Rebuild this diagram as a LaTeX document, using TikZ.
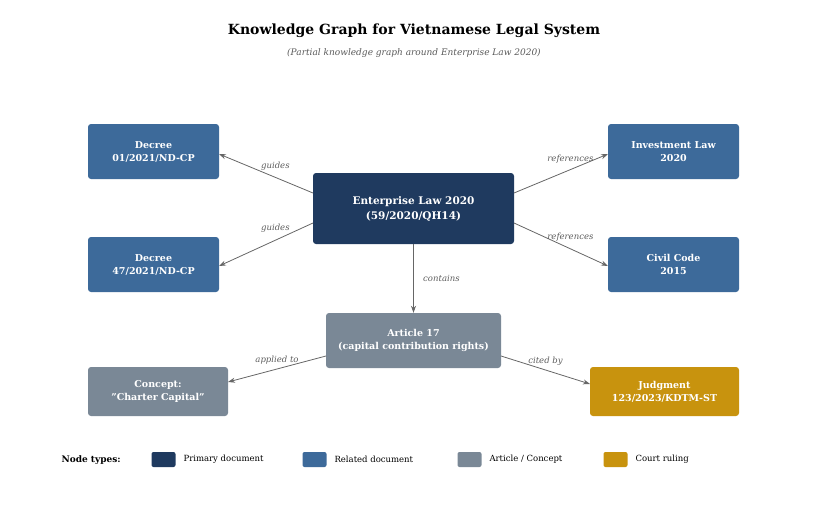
\documentclass[tikz,border=0pt]{standalone}
\usepackage{fontspec}
\setmainfont{DejaVu Serif}
\usetikzlibrary{arrows.meta}
\definecolor{prim}{HTML}{1F3A5F}
\definecolor{rel}{HTML}{3D6A9A}
\definecolor{art}{HTML}{7A8896}
\definecolor{court}{HTML}{C8930E}
\definecolor{edge}{HTML}{666666}
\begin{document}
\begin{tikzpicture}[x=1pt,y=-1pt,
 box/.style={rounded corners=3pt,text=white,font=\bfseries\fontsize{9.5}{13}\selectfont,align=center,inner sep=0pt},
 e/.style={draw=edge,line width=0.8pt,-{Stealth[length=7pt,width=5pt]}},
 lab/.style={font=\itshape\fontsize{8.5}{10}\selectfont,text=edge!90!black},
 leg/.style={fill=#1,rounded corners=2pt,minimum width=24pt,minimum height=15pt,inner sep=0pt}]
\useasboundingbox (0,0) rectangle (828,522);
\node[font=\bfseries\fontsize{14}{16}\selectfont] (title) at (414,31) {Knowledge Graph for Vietnamese Legal System};
\node[font=\itshape\fontsize{9}{11}\selectfont,text=black!65] (sub) at (414,53) {(Partial knowledge graph around Enterprise Law 2020)};
\node[box,fill=prim,minimum width=201pt,minimum height=71pt,font=\bfseries\fontsize{10.5}{15}\selectfont] (m) at (413.5,208.5) {Enterprise Law 2020\\(59/2020/QH14)};
\node[box,fill=rel,minimum width=131pt,minimum height=55pt] (d1) at (153.5,151.5) {Decree\\01/2021/ND-CP};
\node[box,fill=rel,minimum width=131pt,minimum height=55pt] (d2) at (153.5,264.5) {Decree\\47/2021/ND-CP};
\node[box,fill=rel,minimum width=131pt,minimum height=55pt] (inv) at (673.5,151.5) {Investment Law\\2020};
\node[box,fill=rel,minimum width=131pt,minimum height=55pt] (cc) at (673.5,264.5) {Civil Code\\2015};
\node[box,fill=art,minimum width=175pt,minimum height=55pt] (a) at (413.5,340.5) {Article 17\\(capital contribution rights)};
\node[box,fill=art,minimum width=140pt,minimum height=49pt] (c) at (158,391.5) {Concept:\\"Charter Capital"};
\node[box,fill=court,minimum width=149pt,minimum height=49pt] (j) at (664.5,391.5) {Judgment\\123/2023/KDTM-ST};
\coordinate (m1) at (313,193); \coordinate (m2) at (313,223);
\coordinate (m3) at (514,193); \coordinate (m4) at (514,223);
\coordinate (e1) at (219,154); \coordinate (e2) at (219,266);
\coordinate (e3) at (608,154); \coordinate (e4) at (608,266);
\coordinate (a1) at (326,356); \coordinate (a2) at (501,356);
\coordinate (c1) at (228,382); \coordinate (j1) at (590,384);
\draw[e] (m1) -- (e1) node[lab,pos=0.4,above=3pt] {guides};
\draw[e] (m2) -- (e2) node[lab,pos=0.4,above=4pt] {guides};
\draw[e] (m3) -- (e3) node[lab,pos=0.6,above=3pt] {references};
\draw[e] (m4) -- (e4) node[lab,pos=0.6,above=4pt] {references};
\draw[e] (m) -- (a) node[lab,midway,right=6pt] {contains};
\draw[e] (a1) -- (c1) node[lab,midway,above=1pt] {applied to};
\draw[e] (a2) -- (j1) node[lab,midway,above=1pt] {cited by};
\node[font=\bfseries\fontsize{9}{11}\selectfont,anchor=west] (lt) at (58,460) {Node types:};
\node[leg=prim] (l1) at (163.5,459.5) {};
\node[anchor=west,font=\fontsize{8.5}{10}\selectfont] (t1) at (180,459.5) {Primary document};
\node[leg=rel] (l2) at (314.5,459.5) {};
\node[anchor=west,font=\fontsize{8.5}{10}\selectfont] (t2) at (331,459.5) {Related document};
\node[leg=art] (l3) at (469.5,459.5) {};
\node[anchor=west,font=\fontsize{8.5}{10}\selectfont] (t3) at (486,459.5) {Article / Concept};
\node[leg=court] (l4) at (615.5,459.5) {};
\node[anchor=west,font=\fontsize{8.5}{10}\selectfont] (t4) at (632,459.5) {Court ruling};
\end{tikzpicture}
\end{document}
